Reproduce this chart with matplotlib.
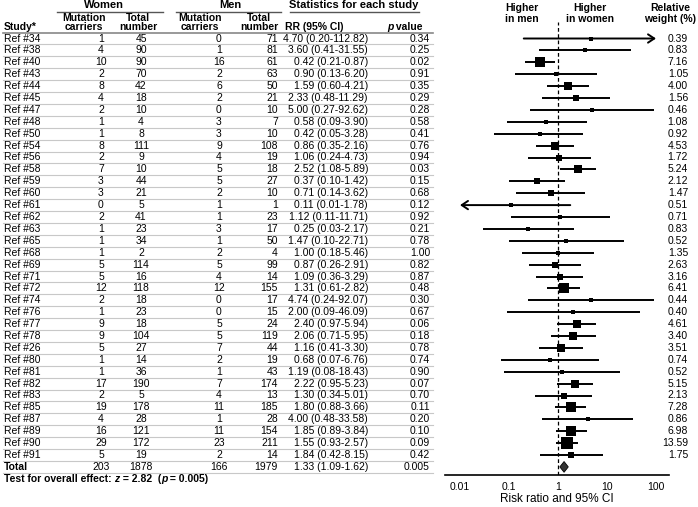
import numpy as np
import matplotlib.pyplot as plt
from matplotlib.patches import Polygon

plt.rcParams['font.family'] = ['Liberation Sans', 'DejaVu Sans']

studies = ["Ref #34", "Ref #38", "Ref #40", "Ref #43", "Ref #44", "Ref #45", "Ref #47", "Ref #48",
           "Ref #50", "Ref #54", "Ref #56", "Ref #58", "Ref #59", "Ref #60", "Ref #61", "Ref #62",
           "Ref #63", "Ref #65", "Ref #68", "Ref #69", "Ref #71", "Ref #72", "Ref #74", "Ref #76",
           "Ref #77", "Ref #78", "Ref #26", "Ref #80", "Ref #81", "Ref #82", "Ref #83", "Ref #85",
           "Ref #87", "Ref #89", "Ref #90", "Ref #91"]
w_carriers = [1, 4, 10, 2, 8, 4, 2, 1, 1, 8, 2, 7, 3, 3, 0, 2, 1, 1, 1, 5, 5, 12, 2, 1,
              9, 9, 5, 1, 1, 17, 2, 19, 4, 16, 29, 5]
w_total = [45, 90, 90, 70, 42, 18, 10, 4, 8, 111, 9, 10, 44, 21, 5, 41, 23, 34, 2, 114, 16, 118, 18, 23,
           18, 104, 27, 14, 36, 190, 5, 178, 28, 121, 172, 19]
m_carriers = [0, 1, 16, 2, 6, 2, 0, 3, 3, 9, 4, 5, 5, 2, 1, 1, 3, 1, 2, 5, 4, 12, 0, 0,
              5, 5, 7, 2, 1, 7, 4, 11, 1, 11, 23, 2]
m_total = [71, 81, 61, 63, 50, 21, 10, 7, 10, 108, 19, 18, 27, 10, 1, 23, 17, 50, 4, 99, 14, 155, 17, 15,
           24, 119, 44, 19, 43, 174, 13, 185, 28, 154, 211, 14]
rr = [4.70, 3.60, 0.42, 0.90, 1.59, 2.33, 5.00, 0.58, 0.42, 0.86, 1.06, 2.52, 0.37, 0.71, 0.11, 1.12,
      0.25, 1.47, 1.00, 0.87, 1.09, 1.31, 4.74, 2.00, 2.40, 2.06, 1.16, 0.68, 1.19, 2.22, 1.30, 1.80,
      4.00, 1.85, 1.55, 1.84]
ci_lo = [0.20, 0.41, 0.21, 0.13, 0.60, 0.48, 0.27, 0.09, 0.05, 0.35, 0.24, 1.08, 0.10, 0.14, 0.01, 0.11,
         0.03, 0.10, 0.18, 0.26, 0.36, 0.61, 0.24, 0.09, 0.97, 0.71, 0.41, 0.07, 0.08, 0.95, 0.34, 0.88,
         0.48, 0.89, 0.93, 0.42]
ci_hi = [112.82, 31.55, 0.87, 6.20, 4.21, 11.29, 92.62, 3.90, 3.28, 2.16, 4.73, 5.89, 1.42, 3.62, 1.78, 11.71,
         2.17, 22.71, 5.46, 2.91, 3.29, 2.82, 92.07, 46.09, 5.94, 5.95, 3.30, 6.76, 18.43, 5.23, 5.01, 3.66,
         33.58, 3.84, 2.57, 8.15]
p_values = ["0.34", "0.25", "0.02", "0.91", "0.35", "0.29", "0.28", "0.58", "0.41", "0.76", "0.94", "0.03",
            "0.15", "0.68", "0.12", "0.92", "0.21", "0.78", "1.00", "0.82", "0.87", "0.48", "0.30", "0.67",
            "0.06", "0.18", "0.78", "0.74", "0.90", "0.07", "0.70", "0.11", "0.20", "0.10", "0.09", "0.42"]
weights = [0.39, 0.83, 7.16, 1.05, 4.00, 1.56, 0.46, 1.08, 0.92, 4.53, 1.72, 5.24, 2.12, 1.47, 0.51, 0.71,
           0.83, 0.52, 1.35, 2.63, 3.16, 6.41, 0.44, 0.40, 4.61, 3.40, 3.51, 0.74, 0.52, 5.15, 2.13, 7.28,
           0.86, 6.98, 13.59, 1.75]
total_counts = [203, 1878, 166, 1979]
total_rr, total_lo, total_hi, total_p = 1.33, 1.09, 1.62, "0.005"
xticks = [0.01, 0.1, 1, 10, 100]
xtick_labels = ["0.01", "0.1", "1", "10", "100"]

W, H = 698, 507
fig = plt.figure(figsize=(W / 100, H / 100), dpi=100)
ax0 = fig.add_axes([0, 0, 1, 1])
ax0.set_xlim(0, W)
ax0.set_ylim(H, 0)
ax0.axis("off")

fs = 7.5
row0, dy = 38.5, 11.9
n = len(studies)


def row_y(i):
    return row0 + dy * i


def pieces(x, y, parts, size=fs):
    # draw consecutive bold text pieces, some italic
    r = fig.canvas.get_renderer()
    inv = ax0.transData.inverted()
    for s, style in parts:
        t = ax0.text(x, y, s, va="center", ha="left", fontsize=size, fontweight="bold", fontstyle=style)
        bb = t.get_window_extent(renderer=r)
        x = inv.transform((bb.x1, bb.y0))[0]


# headers
hdr = dict(fontsize=fs + 0.5, fontweight="bold", va="center")
ax0.text(104, 5.5, "Women", ha="center", **hdr)
ax0.text(230, 5.5, "Men", ha="center", **hdr)
ax0.text(354, 5.5, "Statistics for each study", ha="center", **hdr)
ax0.plot([57, 163], [11.5, 11.5], color="#555555", lw=1)
ax0.plot([176, 281], [11.5, 11.5], color="#555555", lw=1)
ax0.plot([290, 419], [11.5, 11.5], color="#555555", lw=1)

hdr2 = dict(fontsize=fs, fontweight="bold", va="center", ha="center")
for cx in [84, 200]:
    ax0.text(cx, 18, "Mutation", **hdr2)
    ax0.text(cx, 27.5, "carriers", **hdr2)
for cx in [138, 259]:
    ax0.text(cx, 18, "Total", **hdr2)
    ax0.text(cx, 27.5, "number", **hdr2)
ax0.text(4, 27.5, "Study*", ha="left", fontsize=fs, fontweight="bold", va="center")
ax0.text(314, 27.5, "RR (95% CI)", **hdr2)
pieces(387, 27.5, [("p", "italic"), (" value", "normal")])
ax0.plot([3, 433], [32.5, 32.5], color="#888888", lw=1.2)

ax0.text(522, 8, "Higher", **hdr2)
ax0.text(522, 19.5, "in men", **hdr2)
ax0.text(590, 8, "Higher", **hdr2)
ax0.text(590, 19.5, "in women", **hdr2)
ax0.text(670, 8, "Relative", **hdr2)
ax0.text(670, 19.5, "weight (%)", **hdr2)

# table rows
for i in range(n):
    y = row_y(i)
    ax0.text(4, y, studies[i], ha="left", va="center", fontsize=fs)
    ax0.text(101, y, str(w_carriers[i]), ha="center", va="center", fontsize=fs)
    ax0.text(141, y, str(w_total[i]), ha="center", va="center", fontsize=fs)
    ax0.text(219, y, str(m_carriers[i]), ha="center", va="center", fontsize=fs)
    ax0.text(278, y, str(m_total[i]), ha="right", va="center", fontsize=fs)
    ax0.text(368, y, f"{rr[i]:.2f} ({ci_lo[i]:.2f}-{ci_hi[i]:.2f})", ha="right", va="center", fontsize=fs)
    ax0.text(430, y, p_values[i], ha="right", va="center", fontsize=fs)
    ax0.text(688, y, f"{weights[i]:.2f}", ha="right", va="center", fontsize=fs)
    ax0.plot([3, 433], [y + dy / 2, y + dy / 2], color="#c8c8c8", lw=0.8)

y = row_y(n)
ax0.text(4, y, "Total", ha="left", va="center", fontsize=fs, fontweight="bold")
ax0.text(101, y, str(total_counts[0]), ha="center", va="center", fontsize=fs)
ax0.text(141, y, str(total_counts[1]), ha="center", va="center", fontsize=fs)
ax0.text(219, y, str(total_counts[2]), ha="center", va="center", fontsize=fs)
ax0.text(278, y, str(total_counts[3]), ha="right", va="center", fontsize=fs)
ax0.text(368, y, f"{total_rr:.2f} ({total_lo:.2f}-{total_hi:.2f})", ha="right", va="center", fontsize=fs)
ax0.text(430, y, total_p, ha="right", va="center", fontsize=fs)
ax0.plot([3, 433], [y + dy / 2, y + dy / 2], color="#c8c8c8", lw=0.8)

pieces(4, y + dy + 0.5, [("Test for overall effect: ", "normal"), ("z", "italic"), (" = 2.82  (", "normal"),
                          ("p", "italic"), (" = 0.005)", "normal")])

# forest plot
left_px, right_px, top_px, bot_px = 445, 669, 22, 475
ax = fig.add_axes([left_px / W, (H - bot_px) / H, (right_px - left_px) / W, (bot_px - top_px) / H])
ax.patch.set_alpha(0)
ax.set_xscale("log")
one_px, dec = 558, 49.0
ax.set_xlim(10 ** ((left_px - one_px) / dec), 10 ** ((right_px - one_px) / dec))
ax.set_ylim((bot_px - row0) / dy, (top_px - row0) / dy)
for s in ["left", "right", "top"]:
    ax.spines[s].set_visible(False)
ax.spines["bottom"].set_linewidth(1.2)
ax.set_yticks([])
ax.set_xticks(xticks)
ax.set_xticklabels(xtick_labels)
ax.minorticks_off()
ax.tick_params(axis="x", length=0, pad=5, labelsize=fs)
ax.set_xlabel("Risk ratio and 95% CI", fontsize=fs + 1, labelpad=1)

ax.axvline(1, color="black", lw=0.9, ls=(0, (3, 2)))

arrow = dict(arrowstyle="->,head_length=0.45,head_width=0.3", lw=1.4, color="black", shrinkA=0, shrinkB=0)
for i in range(n):
    lo, hi = max(ci_lo[i], 0.01), min(ci_hi[i], 100)
    if ci_hi[i] >= 100:
        ax.annotate("", xy=(hi, i), xytext=(lo, i), arrowprops=arrow)
    elif ci_lo[i] <= 0.01:
        ax.annotate("", xy=(lo, i), xytext=(hi, i), arrowprops=arrow)
    else:
        ax.plot([lo, hi], [i, i], color="black", lw=1.4, solid_capstyle="butt")
    side = 1.5 + 3.0 * np.sqrt(weights[i])
    ax.plot(rr[i], i, marker="s", ms=side * 0.72, color="black", mew=0)

dh = 0.45
ax.add_patch(Polygon([(total_lo, n), (total_rr, n - dh), (total_hi, n), (total_rr, n + dh)],
                     closed=True, facecolor="#333333", edgecolor="black", lw=0.6))

fig.savefig("out.png", dpi=100)
